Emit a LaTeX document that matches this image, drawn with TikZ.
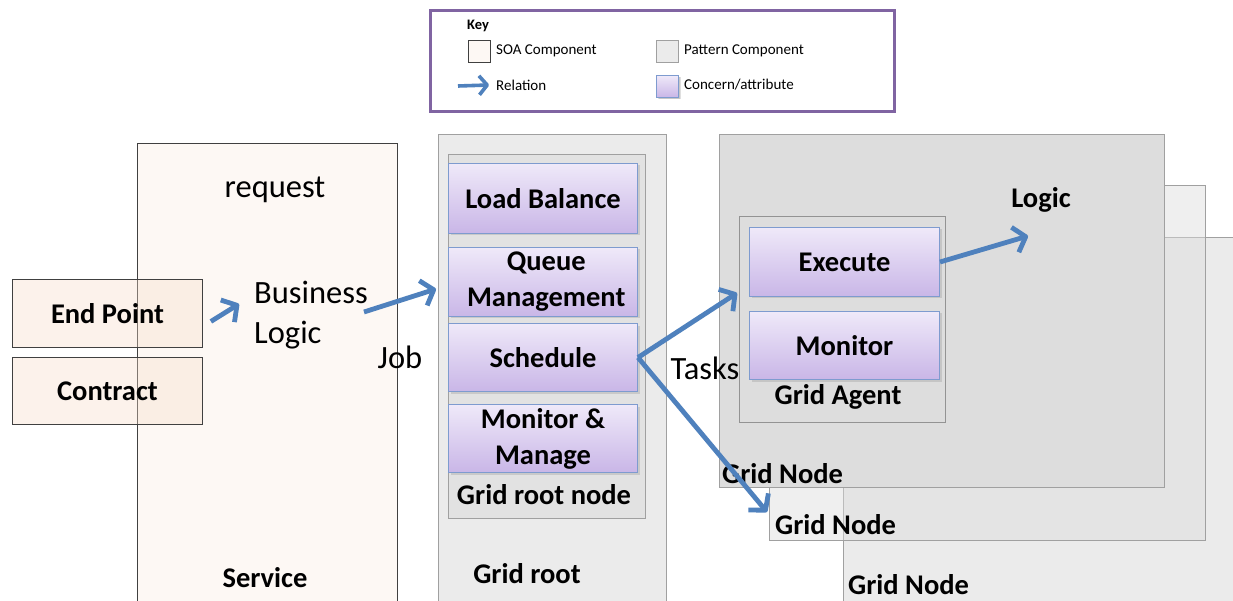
\documentclass[tikz,border=0pt]{standalone}
\usepackage{fontspec}
\setmainfont{Carlito}
\usetikzlibrary{arrows.meta,shadows}

\definecolor{relblue}{HTML}{4F81BD}
\definecolor{keypurple}{HTML}{8064A2}
\definecolor{soafill}{HTML}{FDF8F4}
\definecolor{peach}{HTML}{F7DCC8}
\definecolor{rootgray}{HTML}{EBEBEB}
\definecolor{rootnodegray}{HTML}{E2E2E2}
\definecolor{nodegray}{HTML}{DDDDDD}
\definecolor{edgegray}{HTML}{A0A0A0}
\definecolor{concerntop}{HTML}{EFE9F9}
\definecolor{concernbot}{HTML}{C9B6E7}
\definecolor{concernedge}{HTML}{7E9BCF}

\tikzset{
  soa/.style={draw=black!75, fill=soafill, line width=0.9pt, inner sep=0pt},
  soaover/.style={draw=black!75, fill=peach, fill opacity=0.35, text opacity=1,
    line width=0.9pt, inner sep=0pt, font=\bfseries\fontsize{28.5}{33}\selectfont},
  pat/.style={draw=edgegray, fill=rootgray, line width=1pt, inner sep=0pt},
  concern/.style={draw=concernedge, top color=concerntop, bottom color=concernbot,
    line width=1pt, inner sep=0pt, align=center,
    font=\bfseries\fontsize{28.5}{36}\selectfont,
    drop shadow={shadow xshift=2pt, shadow yshift=-2pt, opacity=0.25}},
  rel/.style={draw=relblue, line width=4.8pt, line join=round,
    -{Straight Barb[length=11pt,width=26pt,line join=round]}},
  boldlbl/.style={font=\bfseries\fontsize{28.5}{33}\selectfont, inner sep=0pt},
  lbl/.style={font=\fontsize{32.5}{40}\selectfont, inner sep=0pt},
  keytxt/.style={font=\fontsize{15}{17}\selectfont, inner sep=0pt, anchor=west},
  swatch/.style={minimum width=22, minimum height=22, anchor=north west}
}

\begin{document}
\begin{tikzpicture}[x=1pt, y=-1pt]
\useasboundingbox (0,0) rectangle (1233,601);
\clip (0,0) rectangle (1233,601);
\fill[white] (0,0) rectangle (1233,601);

% ---------- key ----------
\node[draw=keypurple, line width=3pt, fill=white, minimum width=464, minimum height=101,
  anchor=north west] (key) at (428.5,9.5) {};
\node[keytxt, font=\bfseries\fontsize{14.5}{16}\selectfont] (keyTitle) at (467,26) {Key};
\node[soa, swatch] (kSoa) at (468,40) {};
\node[keytxt] (kSoaTxt) at (496,51) {SOA Component};
\node[pat, swatch] (kPat) at (656,40) {};
\node[keytxt] (kPatTxt) at (684,51) {Pattern Component};
\coordinate (kRelA) at (458,86);
\coordinate (kRelB) at (489,85);
\draw[rel, line width=3.6pt, -{Straight Barb[length=8pt,width=19pt,line join=round]}] (kRelA) -- (kRelB);
\node[keytxt] (kRelTxt) at (496,85) {Relation};
\node[concern, swatch, drop shadow={shadow xshift=1.5pt, shadow yshift=-1.5pt, opacity=0.25}] (kCon) at (656,75) {};
\node[keytxt] (kConTxt) at (684,85) {Concern/attribute};

% ---------- service ----------
\node[soa, minimum width=260, minimum height=480, anchor=north west] (service) at (137,143) {};
\node[lbl] (request) at (275,190) {request};
\node[lbl, align=left, anchor=west] (bl) at (254,315) {Business\\Logic};
\node[boldlbl] (serviceLbl) at (265,578) {Service};
\node[soaover, minimum width=190, minimum height=68, anchor=north west] (ep) at (12,279) {End Point};
\node[soaover, minimum width=190, minimum height=67, anchor=north west] (contract) at (12,357) {Contract};

% ---------- grid root ----------
\node[pat, minimum width=228, minimum height=490, anchor=north west] (groot) at (438,134) {};
\node[pat, fill=rootnodegray, minimum width=197, minimum height=364, anchor=north west] (grnode) at (448,154) {};
\node[concern, minimum width=189, minimum height=70, anchor=north west] (lb) at (448,163) {Load Balance};
\node[concern, minimum width=189, minimum height=69, anchor=north west] (qm) at (448,247) {\ Queue\\ \ Management};
\node[concern, minimum width=189, minimum height=68, anchor=north west] (sched) at (448,323) {Schedule};
\node[concern, minimum width=189, minimum height=68, anchor=north west] (mm) at (448,404) {Monitor \&\\Manage};
\node[boldlbl] (grnodeLbl) at (544,495) {Grid root node};
\node[boldlbl] (grootLbl) at (527,574) {Grid root};

% ---------- grid nodes (stacked) ----------
\node[pat, minimum width=420, minimum height=420, anchor=north west] (gn3) at (843,237) {};
\node[pat, fill=nodegray, fill opacity=0.45, minimum width=436, minimum height=355, anchor=north west] (gn2) at (769,185) {};
\node[pat, fill=nodegray, minimum width=445, minimum height=353, anchor=north west] (gn1) at (719,134) {};
\node[pat, fill=nodegray, draw=gray!85, minimum width=206, minimum height=206, anchor=north west] (agent) at (739,216) {};
\node[concern, minimum width=190, minimum height=69, anchor=north west] (exec) at (749,227) {Execute};
\node[concern, minimum width=190, minimum height=68, anchor=north west] (mon) at (749,311) {Monitor};
\node[boldlbl] (agentLbl) at (838,397) {Grid Agent};
\node[boldlbl] (logic) at (1041,200) {Logic};
\node[boldlbl, anchor=west] (gn1Lbl) at (722,474) {Grid Node};
\node[boldlbl, anchor=west] (gn2Lbl) at (775,525) {Grid Node};
\node[boldlbl, anchor=west] (gn3Lbl) at (848,585) {Grid Node};

% ---------- relations ----------
\coordinate (jobIn) at (436,289);
\coordinate (agentIn) at (737,293);
\coordinate (gn2In) at (767,512);
\coordinate (logicIn) at (1028,236);
\draw[rel] ([xshift=8pt,yshift=-8pt]ep.east) -- ([xshift=-15pt,yshift=11pt]bl.west);
\draw[rel] ([xshift=-4pt,yshift=3pt]bl.east) -- (jobIn);
\node[lbl] (job) at (400,357) {Job};
\draw[rel] (sched.east) -- (agentIn);
\draw[rel] (sched.east) -- (gn2In);
\node[lbl] (tasks) at (705,368) {Tasks};
\draw[rel] (exec.east) -- (logicIn);
\end{tikzpicture}
\end{document}
